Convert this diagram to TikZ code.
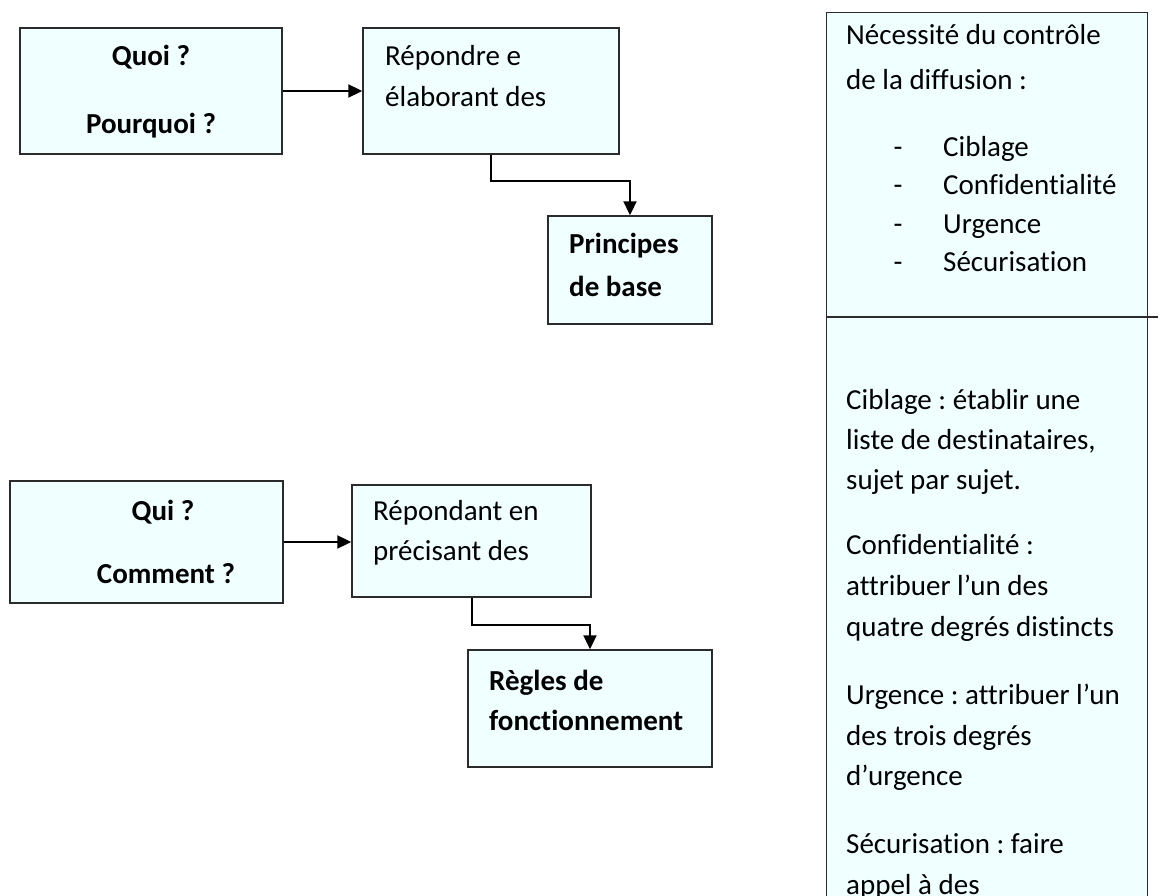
\documentclass[tikz,border=0pt]{standalone}
\usepackage{fontspec}
\setmainfont{Carlito}[Ligatures={NoCommon}]
\usetikzlibrary{arrows.meta}
\definecolor{boxfill}{HTML}{F0FFFF}
\definecolor{boxline}{HTML}{2B2B2B}
\frenchspacing
\begin{document}
\begin{tikzpicture}[x=1pt,y=-1pt,
  box/.style={draw=boxline, line width=1.4pt, fill=boxfill, inner sep=0pt},
  txt/.style={inner sep=0pt, font=\fontsize{29}{35}\selectfont},
  btxt/.style={inner sep=0pt, font=\fontsize{29}{35}\selectfont\bfseries},
  conn/.style={draw=black, line width=2pt, -{Triangle[length=14pt,width=13pt]}},
  divline/.style={draw=boxline, line width=1.4pt}]
\useasboundingbox (0,0) rectangle (1162,896);
\fill[white] (0,0) rectangle (1162,896);

% upper chain
\node[box, minimum width=262pt, minimum height=126pt] (b1) at (151,91) {};
\node[box, minimum width=256pt, minimum height=126pt] (b2) at (491,91) {};
\node[box, minimum width=164pt, minimum height=108pt] (b3) at (630,270) {};
\node[btxt, anchor=base] (t1a) at (151,66) {Quoi ?};
\node[btxt, anchor=base] (t1b) at (151,134) {Pourquoi ?};
\node[txt, anchor=base west] (t2a) at (385,66) {Répondre e};
\node[txt, anchor=base west] (t2b) at (385,107) {élaborant des};
\node[btxt, anchor=base west] (t3a) at (569,254) {Principes};
\node[btxt, anchor=base west] (t3b) at (569,296) {de base};
\draw[conn] (b1.east) -- (b2.west);
\draw[conn] (b2.south) -- ++(0,26) -| (b3.north);

% lower chain
\node[box, minimum width=273pt, minimum height=122pt] (b4) at (146.5,542) {};
\node[box, minimum width=239pt, minimum height=112pt] (b5) at (471.5,541) {};
\node[box, minimum width=244pt, minimum height=117pt] (b6) at (590,708.5) {};
\node[btxt, anchor=base] (t4a) at (163,520) {Qui ?};
\node[btxt, anchor=base] (t4b) at (166,583) {Comment ?};
\node[txt, anchor=base west] (t5a) at (373,520) {Répondant en};
\node[txt, anchor=base west] (t5b) at (373,560) {précisant des};
\node[btxt, anchor=base west] (t6a) at (489,690) {Règles de};
\node[btxt, anchor=base west] (t6b) at (489,730) {fonctionnement};
\draw[conn] (b4.east) -- (b4.east -| b5.west);
\draw[conn] (b5.south) -- ++(0,27) -| (b6.north);

% right panel
\begin{scope}
\clip (0,0) rectangle (1162,896);
\node[box, anchor=north west, minimum width=321pt, minimum height=920pt] (panel) at (826,12) {};
\end{scope}
\coordinate (dl) at (826,317);
\coordinate (dr) at (1158,317);
\draw[divline] (dl) -- (dr);

\node[txt, anchor=base west] (p1) at (846,45) {Nécessité du contrôle};
\node[txt, anchor=base west] (p2) at (846,90) {de la diffusion :};
\node[txt, anchor=base] (d1) at (898,157) {-};
\node[txt, anchor=base] (d2) at (898,195) {-};
\node[txt, anchor=base] (d3) at (898,234) {-};
\node[txt, anchor=base] (d4) at (898,272) {-};
\node[txt, anchor=base west] (i1) at (943,157) {Ciblage};
\node[txt, anchor=base west] (i2) at (943,195) {Confidentialité};
\node[txt, anchor=base west] (i3) at (943,234) {Urgence};
\node[txt, anchor=base west] (i4) at (943,272) {Sécurisation};

\node[txt, anchor=base west] (q1) at (846,409) {Ciblage : établir une};
\node[txt, anchor=base west] (q2) at (846,449) {liste de destinataires,};
\node[txt, anchor=base west] (q3) at (846,489) {sujet par sujet.};
\node[txt, anchor=base west] (q4) at (846,554) {Confidentialité :};
\node[txt, anchor=base west] (q5) at (846,595) {attribuer l’un des};
\node[txt, anchor=base west] (q6) at (846,636) {quatre degrés distincts};
\node[txt, anchor=base west] (q7) at (846,704) {Urgence : attribuer l’un};
\node[txt, anchor=base west] (q8) at (846,745) {des trois degrés};
\node[txt, anchor=base west] (q9) at (846,785) {d’urgence};
\node[txt, anchor=base west] (q10) at (846,853) {Sécurisation : faire};
\node[txt, anchor=base west] (q11) at (846,894) {appel à des};
\end{tikzpicture}
\end{document}
